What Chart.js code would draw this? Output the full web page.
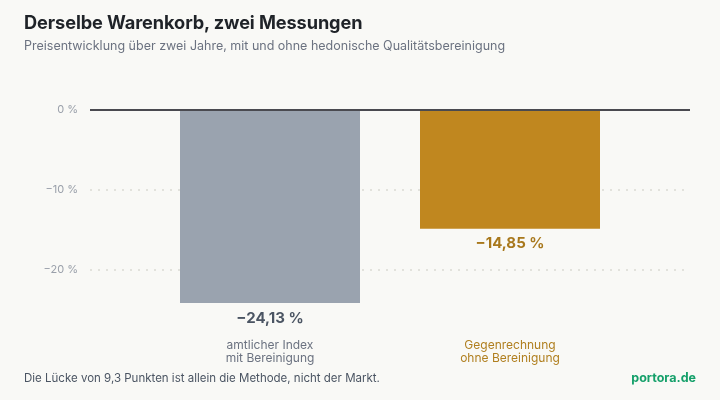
<!DOCTYPE html>
<html lang="de">
<head>
<meta charset="utf-8">
<script src="https://cdn.jsdelivr.net/npm/chart.js@4.4.1/dist/chart.umd.min.js"></script>
<style>
  html, body { margin: 0; padding: 0; background: #f9f9f6; }
  body { width: 720px; height: 400px; position: relative; overflow: hidden; font-family: Inter, "Noto Sans", sans-serif; }
  #title { position: absolute; left: 24px; top: 11px; font-size: 18.2px; font-weight: 700; color: #1f2328; letter-spacing: -0.1px; }
  #subtitle { position: absolute; left: 24px; top: 38px; font-size: 12.5px; color: #6b7280; }
  #footer { position: absolute; left: 24px; top: 371px; font-size: 11.5px; color: #4b5563; }
  #brand { position: absolute; right: 24px; top: 370px; font-size: 12.5px; font-weight: 700; color: #15a06a; }
  #wrap { position: absolute; left: 0; top: 0; width: 720px; height: 400px; }
</style>
</head>
<body>
<div id="wrap"><canvas id="c"></canvas></div>
<div id="title">Derselbe Warenkorb, zwei Messungen</div>
<div id="subtitle">Preisentwicklung über zwei Jahre, mit und ohne hedonische Qualitätsbereinigung</div>
<div id="footer">Die Lücke von 9,3 Punkten ist allein die Methode, nicht der Markt.</div>
<div id="brand">portora.de</div>
<script>
const categories = [["amtlicher Index", "mit Bereinigung"], ["Gegenrechnung", "ohne Bereinigung"]];
const values = [-24.13, -14.85];
const yTicks = [0, -10, -20];
const barColors = ["#9aa3af", "#c0871f"];
const valueLabelColors = ["#4b5563", "#a8781c"];
const categoryLabelColors = ["#6b7280", "#b07f1f"];

const GRID_EXTEND = 60; // grid reaches beyond the bar band on both sides

function fmt(v) {
  const s = Math.abs(v).toFixed(2).replace('.', ',');
  return (v < 0 ? '\u2212' : '') + s + ' %';
}
function fmtTick(v) {
  return (v < 0 ? '\u2212' + Math.abs(v) : String(v)) + ' %';
}

const gridAndLabels = {
  id: 'gridAndLabels',
  beforeDatasetsDraw(chart) {
    const ctx = chart.ctx, y = chart.scales.y, a = chart.chartArea;
    ctx.save();
    ctx.strokeStyle = '#e2e2dc';
    ctx.lineWidth = 2;
    ctx.setLineDash([2, 6]);
    yTicks.forEach(v => {
      if (v === 0) return;
      const py = Math.round(y.getPixelForValue(v));
      ctx.beginPath();
      ctx.moveTo(a.left - GRID_EXTEND, py);
      ctx.lineTo(a.right + GRID_EXTEND, py);
      ctx.stroke();
    });
    ctx.restore();
  },
  afterDatasetsDraw(chart) {
    const ctx = chart.ctx, a = chart.chartArea;
    const meta = chart.getDatasetMeta(0);
    ctx.save();
    ctx.font = '700 15px Inter, "Noto Sans", sans-serif';
    ctx.textAlign = 'center';
    ctx.textBaseline = 'middle';
    meta.data.forEach((bar, i) => {
      ctx.fillStyle = valueLabelColors[i];
      ctx.fillText(fmt(values[i]), bar.x, bar.y + 15);
    });
    const y0 = chart.scales.y.getPixelForValue(0);
    ctx.strokeStyle = '#4a4a50';
    ctx.lineWidth = 2;
    ctx.beginPath();
    ctx.moveTo(a.left - GRID_EXTEND, y0);
    ctx.lineTo(a.right + GRID_EXTEND, y0);
    ctx.stroke();
    ctx.restore();
  }
};

new Chart(document.getElementById('c'), {
  type: 'bar',
  data: {
    labels: categories,
    datasets: [{
      data: values,
      backgroundColor: barColors,
      borderWidth: 0,
      barPercentage: 0.75,
      categoryPercentage: 1.0
    }]
  },
  options: {
    responsive: true,
    maintainAspectRatio: false,
    animation: false,
    layout: { padding: { top: 110, right: 90, bottom: 0, left: 0 } },
    plugins: { legend: { display: false }, tooltip: { enabled: false } },
    scales: {
      y: {
        min: -25,
        max: 0,
        afterBuildTicks(scale) { scale.ticks = yTicks.map(v => ({ value: v })); },
        afterFit(scale) { scale.width = 150; },
        ticks: {
          padding: 64,
          color: '#9aa0aa',
          font: { family: 'Inter', size: 11 },
          callback: (v) => fmtTick(v)
        },
        grid: { display: false },
        border: { display: false }
      },
      x: {
        afterFit(scale) { scale.height = 90; },
        grid: { display: false },
        border: { display: false },
        ticks: {
          padding: 21,
          color: (c) => categoryLabelColors[c.index],
          font: { family: 'Inter', size: 12, lineHeight: 1.1 }
        }
      }
    }
  },
  plugins: [gridAndLabels]
});
</script>
</body>
</html>
